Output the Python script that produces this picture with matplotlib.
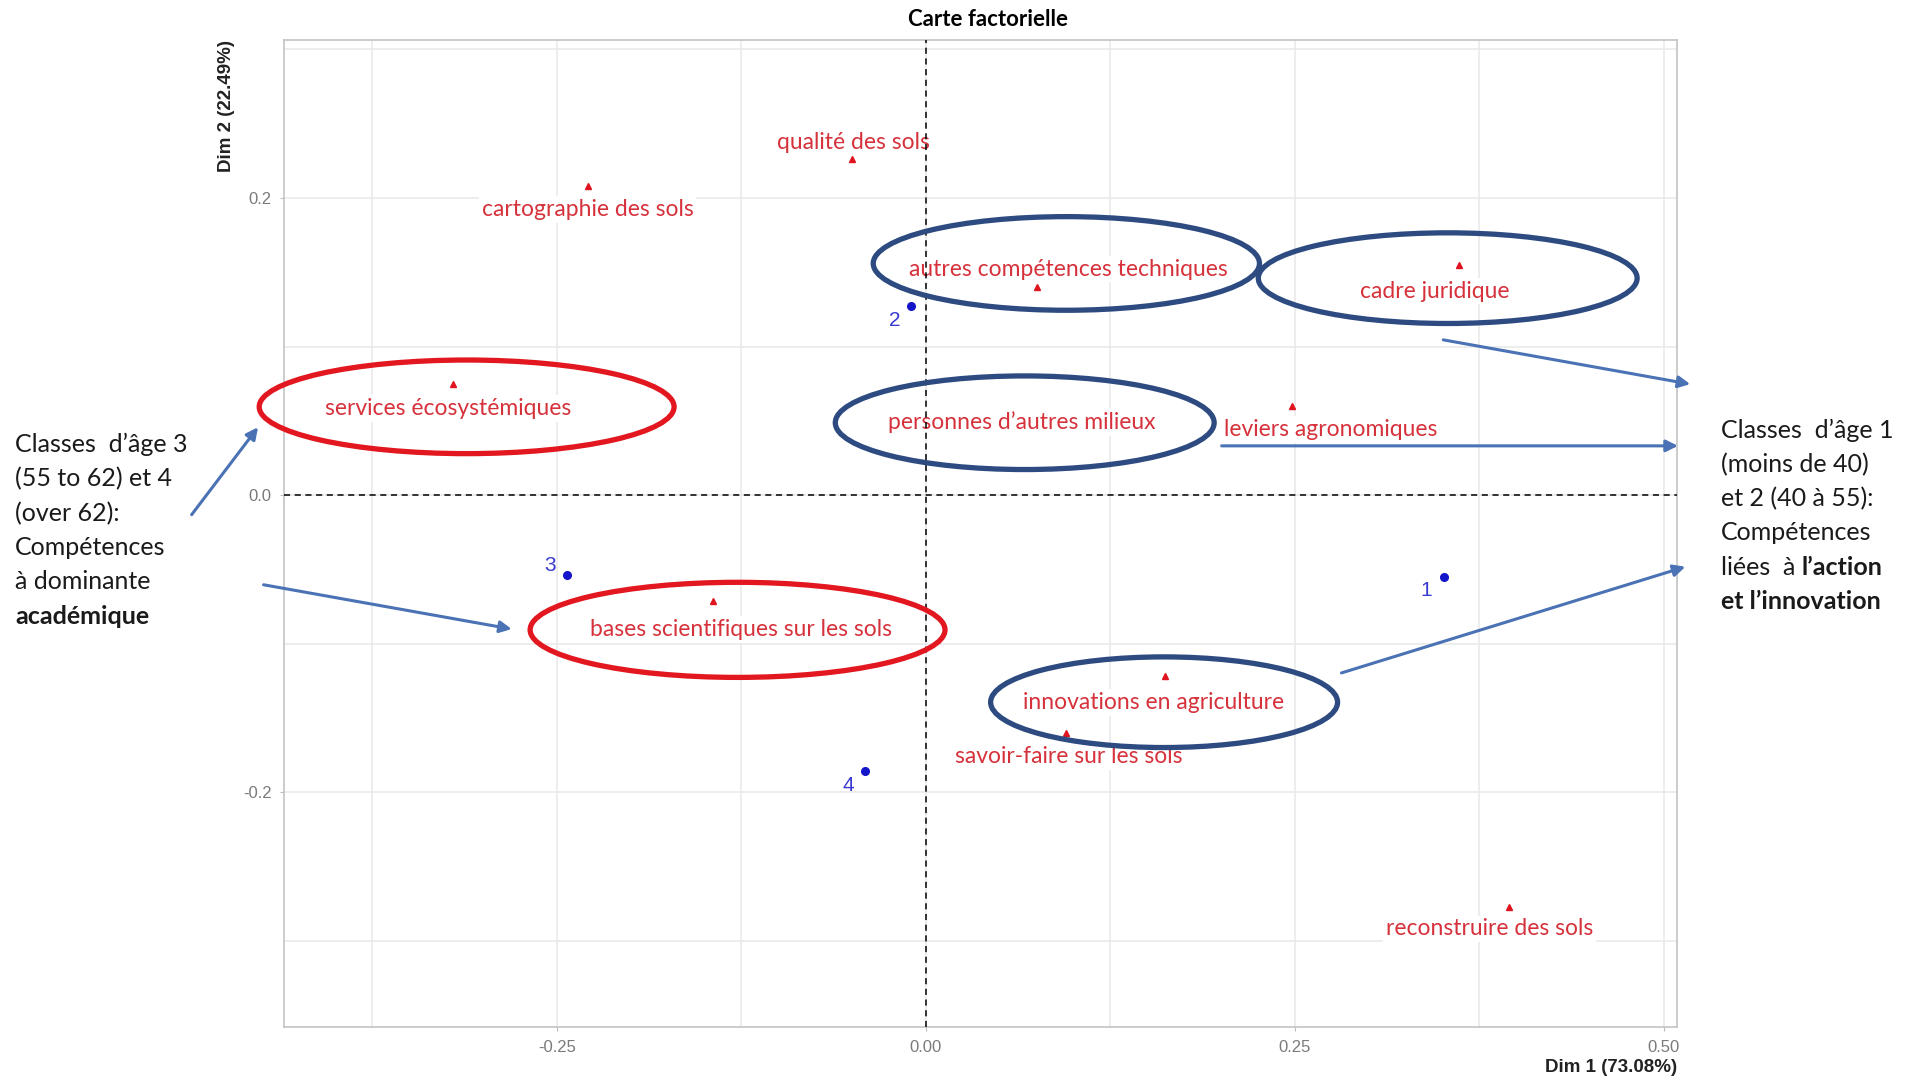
import matplotlib
matplotlib.use("Agg")
import matplotlib.pyplot as plt
from matplotlib.patches import Ellipse, FancyArrowPatch
from matplotlib.ticker import FixedLocator

# competences (variables) - red triangles
var_names = ["qualité des sols", "cartographie des sols", "autres compétences techniques",
             "cadre juridique", "services écosystémiques", "leviers agronomiques",
             "personnes d’autres milieux", "bases scientifiques sur les sols",
             "innovations en agriculture", "savoir-faire sur les sols", "reconstruire des sols"]
var_dim1 = [-0.050, -0.229, 0.075, 0.361, -0.320, 0.248, 0.065, -0.144, 0.162, 0.095, 0.395]
var_dim2 = [0.226, 0.208, 0.140, 0.155, 0.075, 0.060, 0.051, -0.071, -0.122, -0.160, -0.277]

# age classes - blue points
age_names = ["1", "2", "3", "4"]
age_dim1 = [0.351, -0.010, -0.243, -0.041]
age_dim2 = [-0.055, 0.127, -0.054, -0.186]

x_ticks = [-0.25, 0.0, 0.25, 0.50]
x_labels = ["-0.25", "0.00", "0.25", "0.50"]
y_ticks = [-0.2, 0.0, 0.2]
y_labels = ["-0.2", "0.0", "0.2"]

# label offsets (points) from each marker
var_offsets = [(1, 12), (0, -17), (23, 13), (-17, -19), (-4, -18), (28, -17),
               (0, -2), (20, -21), (-8, -19), (2, -17), (-14, -16)]
age_offsets = [(-13, -10), (-12, -10), (-12, 7), (-12, -10)]

RED = "#D6323C"
BLUE_PT = "#1414C8"
NAVY = "#2D4B80"
ELL_RED = "#E2171F"
ARROW = "#4A72B4"
SIDE = "Lato"

fig = plt.figure(figsize=(19.11, 10.78), dpi=100)
ax = fig.add_axes([0.1487, 0.0473, 0.7290, 0.9152])
ax.set_xlim(-0.4346, 0.509)
ax.set_ylim(-0.358, 0.306)

ax.xaxis.set_major_locator(FixedLocator(x_ticks))
ax.set_xticklabels(x_labels)
ax.yaxis.set_major_locator(FixedLocator(y_ticks))
ax.set_yticklabels(y_labels)
ax.xaxis.set_minor_locator(FixedLocator([-0.375, -0.125, 0.125, 0.375]))
ax.yaxis.set_minor_locator(FixedLocator([-0.3, -0.1, 0.1, 0.3]))
ax.tick_params(which="both", length=3, color="#BBBBBB", labelcolor="#7A7A7A",
               labelsize=12, pad=6)
ax.tick_params(which="minor", length=0)
for lab in ax.get_xticklabels() + ax.get_yticklabels():
    lab.set_family("Liberation Sans")
ax.grid(which="both", color="#E8E8E8", lw=1.1, zorder=0)
ax.set_axisbelow(True)
for s in ax.spines.values():
    s.set_color("#C4C4C4")
    s.set_linewidth(1.2)

ax.axhline(0, color="black", ls=(0, (4, 3)), lw=1.1, zorder=5)
ax.axvline(0, color="black", ls=(0, (4, 3)), lw=1.1, zorder=5)

ax.plot(var_dim1, var_dim2, ls="none", marker="^", ms=5, color="#E0141E", zorder=3.5)
for name, x, y, off in zip(var_names, var_dim1, var_dim2, var_offsets):
    ax.annotate(name, (x, y), xytext=off, textcoords="offset points", ha="center",
                va="center", color=RED, fontsize=16.5, family=SIDE, zorder=4,
                bbox=dict(boxstyle="square,pad=0.12", fc="white", ec="none"))

ax.plot(age_dim1, age_dim2, ls="none", marker="o", ms=5.5, color=BLUE_PT, zorder=4.5)
for name, x, y, off in zip(age_names, age_dim1, age_dim2, age_offsets):
    ax.annotate(name, (x, y), xytext=off, textcoords="offset points", ha="center",
                va="center", color="#3A3AD0", fontsize=15, family="Liberation Sans", zorder=4)

# hand-drawn ellipses (center x, center y, width, height, colour)
ellipses = [(-0.311, 0.0594, 0.281, 0.063, ELL_RED),
            (-0.1275, -0.0907, 0.281, 0.064, ELL_RED),
            (0.0952, 0.1559, 0.2616, 0.063, NAVY),
            (0.3535, 0.146, 0.2566, 0.061, NAVY),
            (0.067, 0.0487, 0.2566, 0.063, NAVY),
            (0.1614, -0.1394, 0.235, 0.061, NAVY)]
for cx, cy, w, h, c in ellipses:
    ax.add_patch(Ellipse((cx, cy), w, h, fill=False, ec=c, lw=3.8, zorder=6,
                         clip_on=False))

# arrows in figure fraction
arrows = [((0.0994, 0.5205), (0.1359, 0.6057)),
          ((0.1365, 0.4580), (0.2692, 0.4160)),
          ((0.7538, 0.6852), (0.8859, 0.6432)),
          ((0.6378, 0.5864), (0.8795, 0.5864)),
          ((0.7006, 0.3750), (0.8833, 0.4750))]
for start, end in arrows:
    fig.add_artist(FancyArrowPatch(
        start, end, transform=fig.transFigure, arrowstyle="-|>,head_length=7,head_width=3.5",
        color=ARROW, lw=2.2, zorder=7))

fig.text(0.517, 0.982, "Carte factorielle", ha="center", va="center",
         fontsize=16, fontweight="bold", family=SIDE)
fig.text(0.8777, 0.002, "Dim 1 (73.08%)", ha="right", va="bottom", fontsize=13.5,
         fontweight="bold", family="Liberation Sans", color="#222222")
fig.text(0.1186, 0.9625, "Dim 2 (22.49%)", ha="center", va="top", rotation=90,
         fontsize=13.5, fontweight="bold", family="Liberation Sans", color="#222222")

renderer = fig.canvas.get_renderer()


def side_line(x, y, parts):
    # parts: list of (text, bold) drawn one after another on the same line
    for txt, bold in parts:
        t = fig.text(x, y, txt, ha="left", va="center", fontsize=18, family=SIDE,
                     fontweight="bold" if bold else "normal", color="#1A1A1A")
        bb = t.get_window_extent(renderer=renderer)
        x = fig.transFigure.inverted().transform((bb.x1, bb.y0))[0]


left_lines = [[("Classes  d’âge 3", False)], [("(55 to 62) et 4", False)],
              [("(over 62):", False)], [("Compétences", False)],
              [("à dominante", False)], [("académique", True)]]
right_lines = [[("Classes  d’âge 1", False)], [("(moins de 40)", False)],
               [("et 2 (40 à 55):", False)], [("Compétences", False)],
               [("liées  à ", False), ("l’action", True)], [("et l’innovation", True)]]
for i, parts in enumerate(left_lines):
    side_line(0.0078, 1 - (363 + 28 * i) / 880, parts)
for i, parts in enumerate(right_lines):
    side_line(0.9005, 1 - (351 + 28 * i) / 880, parts)

fig.savefig("out.png", dpi=100)
